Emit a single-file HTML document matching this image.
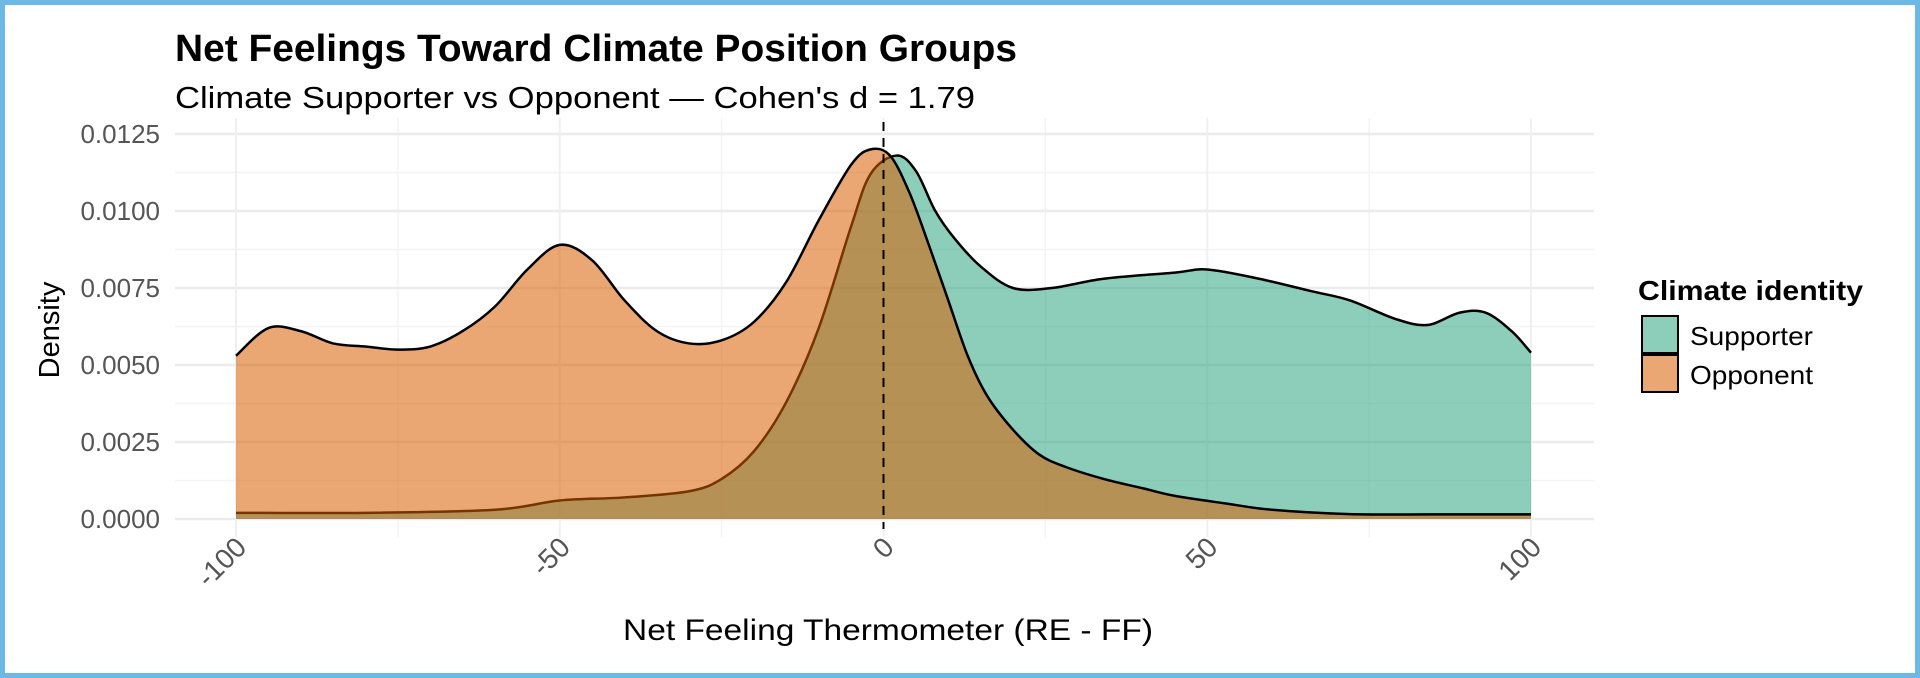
<!DOCTYPE html>
<html><head><meta charset="utf-8"><style>
html,body{margin:0;padding:0;background:#fff;}
#frame{position:absolute;left:0;top:0;width:1920px;height:678px;box-sizing:border-box;border:5px solid #6cb9e6;background:#fff;}
svg text{font-family:"Liberation Sans",sans-serif;}
</style></head><body>
<div id="frame"></div>
<svg id="chart" width="1920" height="678" style="position:absolute;left:0;top:0">
<text x="175" y="61" font-size="38" font-weight="bold" fill="#000" textLength="842" lengthAdjust="spacingAndGlyphs">Net Feelings Toward Climate Position Groups</text>
<text x="175" y="108" font-size="31" fill="#000" textLength="800" lengthAdjust="spacingAndGlyphs">Climate Supporter vs Opponent — Cohen's d = 1.79</text>
<g id="grid"></g><g id="marks"></g><g id="axes"></g>
<text transform="translate(59,330) rotate(-90)" text-anchor="middle" font-size="29" fill="#000">Density</text>
<text x="888" y="640" text-anchor="middle" font-size="30" fill="#000" textLength="530" lengthAdjust="spacingAndGlyphs">Net Feeling Thermometer (RE - FF)</text>
<g>
<text x="1638" y="300" font-size="28" font-weight="bold" fill="#000" textLength="225" lengthAdjust="spacingAndGlyphs">Climate identity</text>
<rect x="1642" y="316" width="36" height="37" fill="rgba(27,158,119,0.5)" stroke="#000" stroke-width="2"/>
<text x="1690" y="345" font-size="26" fill="#000" textLength="123" lengthAdjust="spacingAndGlyphs">Supporter</text>
<rect x="1642" y="355" width="36" height="37" fill="rgba(217,95,2,0.55)" stroke="#000" stroke-width="2"/>
<text x="1690" y="384" font-size="26" fill="#000" textLength="123" lengthAdjust="spacingAndGlyphs">Opponent</text>
</g>
</svg>
<script>
const supporterX=[-100,-80,-60,-50,-40,-30,-25,-20,-15,-10,-5,-2,2,5,8,11,15,20,26,34,45,50,58,66,72,79,84,89,93,97,100];
const supporterY=[0.0002,0.0002,0.0003,0.0006,0.0007,0.0009,0.0013,0.0022,0.0038,0.0062,0.0095,0.0112,0.0118,0.0113,0.0100,0.0091,0.0082,0.0075,0.0075,0.0078,0.0080,0.0081,0.0078,0.0074,0.0071,0.0065,0.0063,0.0067,0.0067,0.0061,0.0054];
const opponentX=[-100,-95,-90,-85,-80,-75,-70,-65,-60,-55,-50,-45,-40,-35,-30,-25,-20,-15,-10,-5,-2,1,4,7,10,13,16,20,24,28,34,40,45,53,60,72,85,100];
const opponentY=[0.0053,0.0062,0.0061,0.0057,0.0056,0.0055,0.0056,0.0061,0.0069,0.0081,0.0089,0.0084,0.0071,0.0061,0.0057,0.0058,0.0064,0.0077,0.0097,0.0115,0.0120,0.0118,0.0106,0.0089,0.0071,0.0053,0.0040,0.0029,0.0021,0.0017,0.0013,0.0010,0.00075,0.0005,0.0003,0.00016,0.00015,0.00015];
const yTicks=[0,0.0025,0.005,0.0075,0.01,0.0125];
const yTickLabels=["0.0000","0.0025","0.0050","0.0075","0.0100","0.0125"];
const xTicks=[-100,-50,0,50,100];
const xTickLabels=["-100","-50","0","50","100"];
const refLine=0;

const NS="http://www.w3.org/2000/svg";
const PL=175,PR=1594,PT=118,PB=537;
const sx=v=>236+(v+100)/200*(1531-236);
const sy=v=>519-v/0.0125*(519-134);
function mk(tag,attrs,parent){const e=document.createElementNS(NS,tag);for(const k in attrs)e.setAttribute(k,attrs[k]);parent.appendChild(e);return e;}
const grid=document.getElementById('grid'),marks=document.getElementById('marks'),axes=document.getElementById('axes');
for(let i=0;i<yTicks.length-1;i++){const v=(yTicks[i]+yTicks[i+1])/2;
 const l=mk('line',{x1:PL,x2:PR,y1:sy(v),y2:sy(v),stroke:'#f3f3f3','stroke-width':1.5},grid);
 
 }
for(let i=0;i<xTicks.length-1;i++){const v=(xTicks[i]+xTicks[i+1])/2;
 const l=mk('line',{x1:sx(v),x2:sx(v),y1:PT,y2:PB,stroke:'#f3f3f3','stroke-width':1.5},grid);
 
 }
yTicks.forEach((v,i)=>{
 const l=mk('line',{x1:PL,x2:PR,y1:sy(v),y2:sy(v),stroke:'#ebebeb','stroke-width':2.5},grid);
 
 
 const t=mk('text',{x:160,y:sy(v)+9,'text-anchor':'end','font-size':26,fill:'#555'},axes);
 t.textContent=yTickLabels[i];
 
 
});
xTicks.forEach((v,i)=>{
 const l=mk('line',{x1:sx(v),x2:sx(v),y1:PT,y2:PB,stroke:'#f0f0f0','stroke-width':2},grid);
 
 
 const x=sx(v)+12,y=549;
 const t=mk('text',{x:x,y:y,'text-anchor':'end','font-size':28,fill:'#555',transform:`rotate(-45 ${x} ${y})`},axes);
 t.textContent=xTickLabels[i];
 
 
});
function curve(xs,ys){
 const p=xs.map((x,i)=>[sx(x),sy(ys[i])]);
 let d=`M${p[0][0]},${p[0][1]}`;
 for(let i=0;i<p.length-1;i++){
  const p0=p[Math.max(0,i-1)],p1=p[i],p2=p[i+1],p3=p[Math.min(p.length-1,i+2)];
  const c1=[p1[0]+(p2[0]-p0[0])/6,p1[1]+(p2[1]-p0[1])/6];
  const c2=[p2[0]-(p3[0]-p1[0])/6,p2[1]-(p3[1]-p1[1])/6];
  d+=` C${c1[0]},${c1[1]} ${c2[0]},${c2[1]} ${p2[0]},${p2[1]}`;
 }
 return d;
}
function series(xs,ys,fill,name){
 const c=curve(xs,ys);
 const area=mk('path',{d:c+` L${sx(xs[xs.length-1])},${sy(0)} L${sx(xs[0])},${sy(0)} Z`,fill:fill,stroke:'none'},marks);
 
 
 const line=mk('path',{d:c,fill:'none',stroke:'#000','stroke-width':2.5},marks);
 
 
}
series(supporterX,supporterY,'rgba(27,158,119,0.5)','supporter-density');
series(opponentX,opponentY,'rgba(217,95,2,0.55)','opponent-density');
const ref=mk('line',{x1:sx(refLine),x2:sx(refLine),y1:122,y2:529,stroke:'#000','stroke-width':2,'stroke-dasharray':'9,7'},marks);


</script>
</body></html>
